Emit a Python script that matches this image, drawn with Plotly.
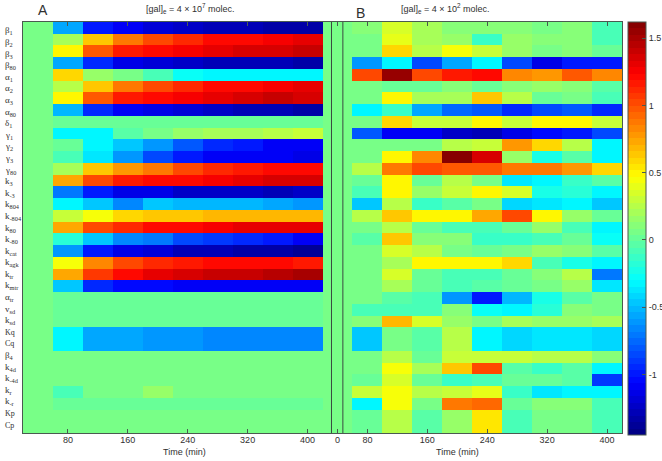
import plotly.graph_objects as go

ROW_LABELS = [
    "β<sub>1</sub>", "β<sub>2</sub>", "β<sub>3</sub>", "β<sub>80</sub>",
    "α<sub>1</sub>", "α<sub>2</sub>", "α<sub>3</sub>", "α<sub>80</sub>",
    "δ<sub>1</sub>", "γ<sub>1</sub>", "γ<sub>2</sub>", "γ<sub>3</sub>", "γ<sub>80</sub>",
    "k<sub>3</sub>", "k<sub>-3</sub>", "k<sub>804</sub>", "k<sub>-804</sub>",
    "k<sub>80</sub>", "k<sub>-80</sub>", "k<sub>cat</sub>", "k<sub>agk</sub>",
    "k<sub>tr</sub>", "k<sub>mtr</sub>", "α<sub>tr</sub>", "v<sub>sd</sub>", "k<sub>sd</sub>",
    "Kq", "Cq", "β<sub>4</sub>", "k<sub>4d</sub>", "k<sub>-4d</sub>",
    "k<sub>r</sub>", "k<sub>-r</sub>", "Kp", "Cp",
]

# panel A, [gal]e = 4e7, one row per parameter, columns 80..400 min
PANEL_A = [
    [-.55, -.98, -1.1, -1.2, -1.25, -1.27, -1.3, -1.33, -1.35],
    [.2, .65, .87, 1.03, 1.14, 1.2, 1.22, 1.28, 1.33],
    [.47, .95, 1.15, 1.22, 1.26, 1.3, 1.35, 1.38, 1.4],
    [-.58, -.95, -1.12, -1.2, -1.25, -1.27, -1.3, -1.3, -1.32],
    [.6, .1, -.02, -.12, -.28, -.3, -.32, -.34, -.33],
    [.17, .65, .87, 1.03, 1.12, 1.2, 1.22, 1.27, 1.32],
    [.47, .97, 1.15, 1.22, 1.26, 1.3, 1.35, 1.4, 1.38],
    [-.5, -.95, -1.1, -1.15, -1.2, -1.25, -1.27, -1.3, -1.32],
    [-.03, -.03, -.03, -.03, -.03, -.03, -.03, -.03, -.03],
    [-.3, -.3, -.1, 0, .1, .15, .2, .24, .28],
    [-.05, -.3, -.45, -.6, -.82, -.95, -1.0, -1.07, -1.1],
    [-.13, -.35, -.63, -.83, -1.0, -1.07, -1.07, -1.1, -1.12],
    [.2, .65, .78, .87, 1.03, 1.1, 1.15, 1.2, 1.23],
    [.73, 1.0, 1.18, 1.2, 1.22, 1.27, 1.33, 1.35, 1.37],
    [-.7, -.98, -1.12, -1.15, -1.22, -1.25, -1.25, -1.27, -1.25],
    [-.3, -.45, -.65, -.47, -.53, -.53, -.53, -.55, -.6],
    [.3, .45, .6, .62, .65, .67, .68, .68, .67],
    [.72, 1.0, 1.1, 1.2, 1.2, 1.25, 1.32, 1.33, 1.33],
    [-.2, -.47, -.65, -.72, -.85, -.9, -.95, -1.0, -1.07],
    [-.62, -1.0, -1.12, -1.2, -1.27, -1.3, -1.33, -1.35, -1.38],
    [.45, .83, 1.03, 1.1, 1.15, 1.2, 1.2, 1.2, 1.18],
    [.73, 1.05, 1.2, 1.3, 1.35, 1.4, 1.42, 1.45, 1.48],
    [-.48, -.95, -1.03, -1.05, -1.1, -1.1, -1.1, -1.1, -1.1],
    [-.05, -.05, -.05, -.05, -.05, -.05, -.05, -.05, -.05],
    [-.04, -.04, -.04, -.04, -.04, -.04, -.05, -.05, -.05],
    [-.03, -.03, -.03, -.03, -.03, -.03, -.05, -.05, -.05],
    [-.33, -.55, -.57, -.62, -.62, -.68, -.68, -.68, -.68],
    [-.33, -.55, -.57, -.62, -.62, -.68, -.68, -.68, -.68],
    [0, 0, 0, 0, 0, 0, 0, 0, 0],
    [0, 0, 0, 0, 0, 0, 0, 0, 0],
    [0, 0, 0, 0, 0, 0, 0, 0, 0],
    [-.13, .01, .01, .09, .01, .01, 0, 0, 0],
    [-.03, -.03, -.03, -.03, -.03, -.03, -.03, -.03, -.03],
    [0, 0, 0, 0, 0, 0, 0, 0, 0],
    [0, 0, 0, 0, 0, 0, 0, 0, 0],
]

# panel B, [gal]e = 4e2
PANEL_B = [
    [.03, .33, .22, .05, .03, .03, 0, .03, -.13],
    [.02, .38, .2, .12, -.17, .08, .06, .06, -.13],
    [.02, .58, .17, .45, .3, .11, 0, .03, -.05],
    [-.62, -.33, -.85, -.55, -.33, -.85, -1.12, -1.0, -1.0],
    [1.0, 1.55, 1.03, 1.15, 1.22, .85, .77, .98, .85],
    [0, -.03, -.07, .05, -.05, .05, .08, .05, -.1],
    [0, .5, .2, .15, .66, .17, -.05, .02, -.13],
    [-.3, -.17, -.55, -.75, -.78, -.93, -.85, -.82, -.95],
    [.02, .57, .3, .3, .5, .3, .48, .48, .3],
    [-.78, -1.07, -1.1, -1.22, -1.27, -1.12, -1.03, -.98, -.85],
    [.02, .02, .02, .17, .28, .77, .58, .17, -.32],
    [.02, .48, .85, 1.6, 1.35, .08, -.23, -.1, -.33],
    [.23, .9, 1.03, .95, .95, .87, .87, .78, .57],
    [-.07, .5, -.05, .27, .02, -.37, -.32, -.17, -.1],
    [-.13, .5, .11, .3, .47, .37, -.23, -.2, -.32],
    [-.45, .17, -.17, -.1, .02, -.43, -.37, -.32, -.47],
    [.23, .65, .48, .48, .72, 1.0, .47, .08, -.03],
    [0, .26, -.07, -.13, -.13, -.07, .08, -.15, -.33],
    [-.1, .65, .05, .05, -.17, -.17, -.13, -.05, -.27],
    [0, .37, .17, 0, -.05, .02, .08, .05, -.1],
    [0, .2, .47, .47, .47, .6, -.13, -.25, -.3],
    [0, .33, -.05, -.13, -.13, -.05, .05, .23, -.7],
    [0, .22, -.05, -.13, -.1, -.05, .02, .11, -.38],
    [0, -.1, -.13, -.6, -1.0, -.53, -.23, -.1, -.02],
    [-.13, -.13, -.13, .05, -.27, -.3, -.2, .05, .02],
    [.06, .67, .33, .08, 0, .13, .1, .08, .14],
    [-.48, -.02, -.1, .27, -.32, -.43, -.36, -.36, -.43],
    [-.48, -.02, -.1, .27, -.32, -.43, -.36, -.36, -.43],
    [0, .23, -.07, .28, .3, .3, .23, .17, .05],
    [0, .45, .2, .62, 1.03, -.1, -.18, -.1, -.3],
    [-.05, .33, -.05, -.17, -.13, -.05, -.05, -.1, -.88],
    [.3, .45, .17, .3, .38, -.18, -.38, -.3, -.3],
    [-.32, .45, 0, .87, .93, -.05, .05, .05, -.13],
    [-.03, .17, -.1, .1, .55, -.13, 0, .02, -.13],
    [-.03, .17, -.1, .1, .55, -.13, 0, .02, -.13],
]

TICK_POS = [1, 3, 5, 7, 9, 10, 11, 13, 15, 17, 19]
TICK_TEXT = ["80", "160", "240", "320", "400", "0", "80", "160", "240", "320", "400"]
CBAR_TICKS = [-1, -0.5, 0, 0.5, 1, 1.5]
CBAR_TEXT = ["-1", "-0.5", "0", "0.5", "1", "1.5"]
ZMIN, ZMAX = -1.45, 1.62
BACKGROUND = 0.06  # the green in the picture sits a little above the bar's 0


def jet_scale(n=64):
    # stepped MATLAB style jet
    scale = []
    for i in range(n):
        x = (i + 0.5) / n
        rgb = [max(0, min(1, 1.5 - abs(4 * x - c))) for c in (3, 2, 1)]
        col = "rgb(%d,%d,%d)" % tuple(round(v * 255) for v in rgb)
        scale.append([i / n, col])
        scale.append([(i + 1) / n, col])
    return scale


def lift(v):
    # only the near-zero greens were read relative to the background
    return v + BACKGROUND if abs(v) < 0.2 else v


# blank column in front of each panel
z = [[lift(v) for v in [0] + a + [0] + b] for a, b in zip(PANEL_A, PANEL_B)]

AXIS_COLOR = "#4a5a50"
TEXT_COLOR = "#303030"
FONT = "Liberation Sans"

fig = go.Figure()
fig.add_trace(go.Heatmap(
    z=z,
    x=list(range(20)),
    y=list(range(35)),
    zmin=ZMIN,
    zmax=ZMAX,
    colorscale=jet_scale(),
    hoverinfo="skip",
    colorbar=dict(
        x=1.01, xanchor="left", xpad=0,
        y=1.0, yanchor="top", ypad=0,
        thickness=18,
        lenmode="pixels", len=413,
        tickvals=CBAR_TICKS,
        ticktext=CBAR_TEXT,
        ticks="inside", ticklen=4, tickcolor=AXIS_COLOR,
        tickfont=dict(size=9, color=TEXT_COLOR, family=FONT),
        outlinecolor=AXIS_COLOR, outlinewidth=1,
    ),
))

# the two lines either side of the t=0 gap
for pos in (9.8, 10.18):
    fig.add_vline(x=pos, line_color="#3a4a40", line_width=1)

annotations = []
for i, label in enumerate(ROW_LABELS):
    annotations.append(dict(
        x=0, xref="paper", xanchor="left", xshift=-20,
        y=i, yref="y", yshift=-3 + 5 * i / 34,
        text=label, showarrow=False,
        font=dict(size=9 if "<sub>" in label else 8, color=TEXT_COLOR,
                  family="Liberation Serif"),
    ))

HEADERS = [
    (0.033, 1.028, "A", 14),
    (0.279, 1.032, "[gal]<sub>e</sub> = 4 × 10<sup>7</sup> molec.", 9),
    (0.564, 1.022, "B", 14),
    (0.706, 1.032, "[gal]<sub>e</sub> = 4 × 10<sup>2</sup> molec.", 9),
    (0.269, -0.046, "Time (min)", 9),
    (0.726, -0.046, "Time (min)", 9),
]
for xp, yp, text, size in HEADERS:
    annotations.append(dict(
        x=xp, xref="paper", xanchor="center", y=yp, yref="paper",
        yanchor="middle", text=text, showarrow=False,
        font=dict(size=size, color=TEXT_COLOR, family=FONT),
    ))

fig.update_layout(
    width=662,
    height=461,
    margin=dict(l=23, r=40, t=22, b=28, autoexpand=False),
    paper_bgcolor="white",
    plot_bgcolor="white",
    xaxis=dict(
        range=[-0.5, 19.5],
        tickvals=TICK_POS,
        ticktext=TICK_TEXT,
        ticks="inside", ticklen=4, tickcolor=AXIS_COLOR,
        ticklabelstandoff=-2,
        tickfont=dict(size=9, color=TEXT_COLOR, family=FONT),
        showline=True, linecolor=AXIS_COLOR, linewidth=1, mirror="allticks",
        showgrid=False, zeroline=False,
    ),
    yaxis=dict(
        range=[34.5, -0.5],
        showticklabels=False,
        ticks="",
        showline=True, linecolor=AXIS_COLOR, linewidth=1, mirror=True,
        showgrid=False, zeroline=False,
    ),
    annotations=annotations,
    showlegend=False,
)

fig.write_html(
    "out.html",
    config={"displayModeBar": False},
    post_script="document.body.style.margin='0';document.body.style.overflow='hidden';",
)
